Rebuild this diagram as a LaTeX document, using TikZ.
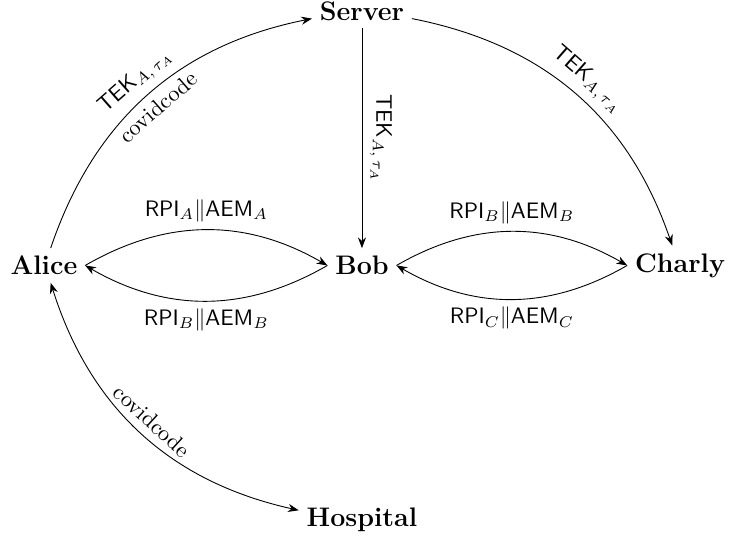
\documentclass[tikz,border=0pt]{standalone}
\usetikzlibrary{arrows.meta}
\begin{document}
\begin{tikzpicture}[
  party/.style={font=\large\bfseries},
  msg/.style={-{Stealth}},
  biarrow/.style={{Stealth}-{Stealth}}
]
\useasboundingbox (-0.69,-4.317) rectangle (10.77,4.173);
\node[party] (alice) at (0,0) {Alice};
\node[party] (bob) at (5,0) {Bob};
\node[party] (charly) at (10,0) {Charly};
\node[party] (server) at (5,4) {Server};
\node[party] (hospital) at (5,-4) {Hospital};
\draw[msg] (alice) to[bend left] node[sloped,above]{$\mathsf{TEK}_{A,\,\tau_A}$} node[sloped,below]{covidcode} (server);
\draw[msg] (server) to[bend left] node[sloped,above]{$\mathsf{TEK}_{A,\,\tau_A}$} (charly);
\draw[msg] (server) -- node[sloped,above]{$\mathsf{TEK}_{A,\,\tau_A}$} (bob);
\draw[msg] (alice.east) to[bend left] node[above]{$\mathsf{RPI}_A\|\mathsf{AEM}_A$} (bob.west);
\draw[msg] (bob.west) to[bend left] node[below]{$\mathsf{RPI}_B\|\mathsf{AEM}_B$} (alice.east);
\draw[msg] (bob.east) to[bend left] node[above]{$\mathsf{RPI}_B\|\mathsf{AEM}_B$} (charly.west);
\draw[msg] (charly.west) to[bend left] node[below]{$\mathsf{RPI}_C\|\mathsf{AEM}_C$} (bob.east);
\draw[biarrow] (alice) to[bend right] node[sloped,above]{covidcode} (hospital);
\end{tikzpicture}
\end{document}
